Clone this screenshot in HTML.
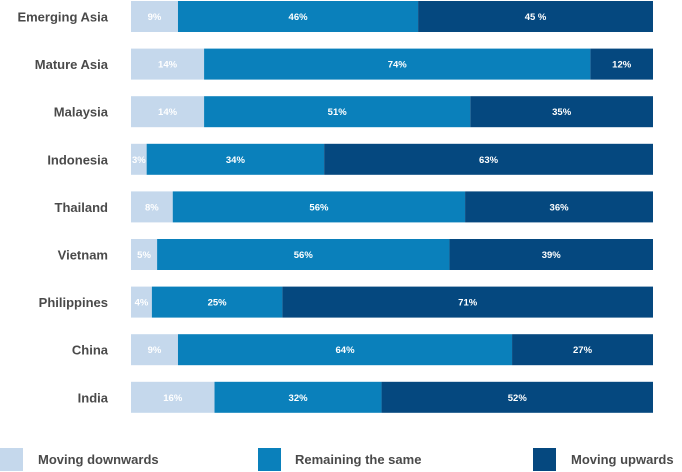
<!DOCTYPE html>
<html><head><meta charset="utf-8"><style>
body{margin:0;width:682px;height:472px;background:#fff;font-family:"Liberation Sans",sans-serif;overflow:hidden}
svg{display:block}
</style></head><body>
<svg id="chart" width="682" height="472">
<g id="bars"></g>
<g>
 <g><rect x="0" y="448" width="23" height="23" fill="#c5d8ec"/><text x="38" y="464" font-size="13" font-weight="bold" fill="#4a4a4a">Moving downwards</text></g>
 <g><rect x="258" y="448" width="23" height="23" fill="#0a80bb"/><text x="295" y="464" font-size="13" font-weight="bold" fill="#4a4a4a">Remaining the same</text></g>
 <g><rect x="533" y="448" width="23" height="23" fill="#05487f"/><text x="571" y="464" font-size="13" font-weight="bold" fill="#4a4a4a">Moving upwards</text></g>
</g>
</svg>
<script>
const categories=["Emerging Asia","Mature Asia","Malaysia","Indonesia","Thailand","Vietnam","Philippines","China","India"];
const down=[9,14,14,3,8,5,4,9,16];
const same=[46,74,51,34,56,56,25,64,32];
const up=[45,12,35,63,36,39,71,27,52];
const valueLabels=[["9%","46%","45 %"],["14%","74%","12%"],["14%","51%","35%"],["3%","34%","63%"],["8%","56%","36%"],["5%","56%","39%"],["4%","25%","71%"],["9%","64%","27%"],["16%","32%","52%"]];
const colors=["#c5d8ec","#0a80bb","#05487f"];
const segNames=["moving-downwards","remaining-the-same","moving-upwards"];
const X0=131,X1=653,Y0=1,PITCH=47.6,H=31;
const ns="http://www.w3.org/2000/svg";
const g=document.getElementById("bars");
function xScale(v,total){return (X1-X0)*v/total;}
function yScale(i){return Y0+i*PITCH;}
categories.forEach((c,i)=>{
  const y=yScale(i);
  const lbl=document.createElementNS(ns,"text");
  lbl.setAttribute("x",108);lbl.setAttribute("y",y+H/2+5);
  lbl.setAttribute("text-anchor","end");lbl.setAttribute("font-size","13");
  lbl.setAttribute("font-weight","bold");lbl.setAttribute("fill","#4a4a4a");
  lbl.textContent=c;
  
  
  g.appendChild(lbl);
  const vals=[down[i],same[i],up[i]];
  const total=vals[0]+vals[1]+vals[2];
  let x=X0;
  vals.forEach((v,k)=>{
    const w=xScale(v,total);
    const r=document.createElementNS(ns,"rect");
    r.setAttribute("x",x);r.setAttribute("y",y);r.setAttribute("width",w);r.setAttribute("height",H);
    r.setAttribute("fill",colors[k]);
    
    
    g.appendChild(r);
    const t=document.createElementNS(ns,"text");
    t.setAttribute("x",x+w/2);t.setAttribute("y",y+H/2+3.5);
    t.setAttribute("text-anchor","middle");t.setAttribute("font-size","9.5");
    t.setAttribute("font-weight","bold");t.setAttribute("fill","#fff");
    t.textContent=valueLabels[i][k];
    
    
    g.appendChild(t);
    x+=w;
  });
});
</script>
</body></html>
